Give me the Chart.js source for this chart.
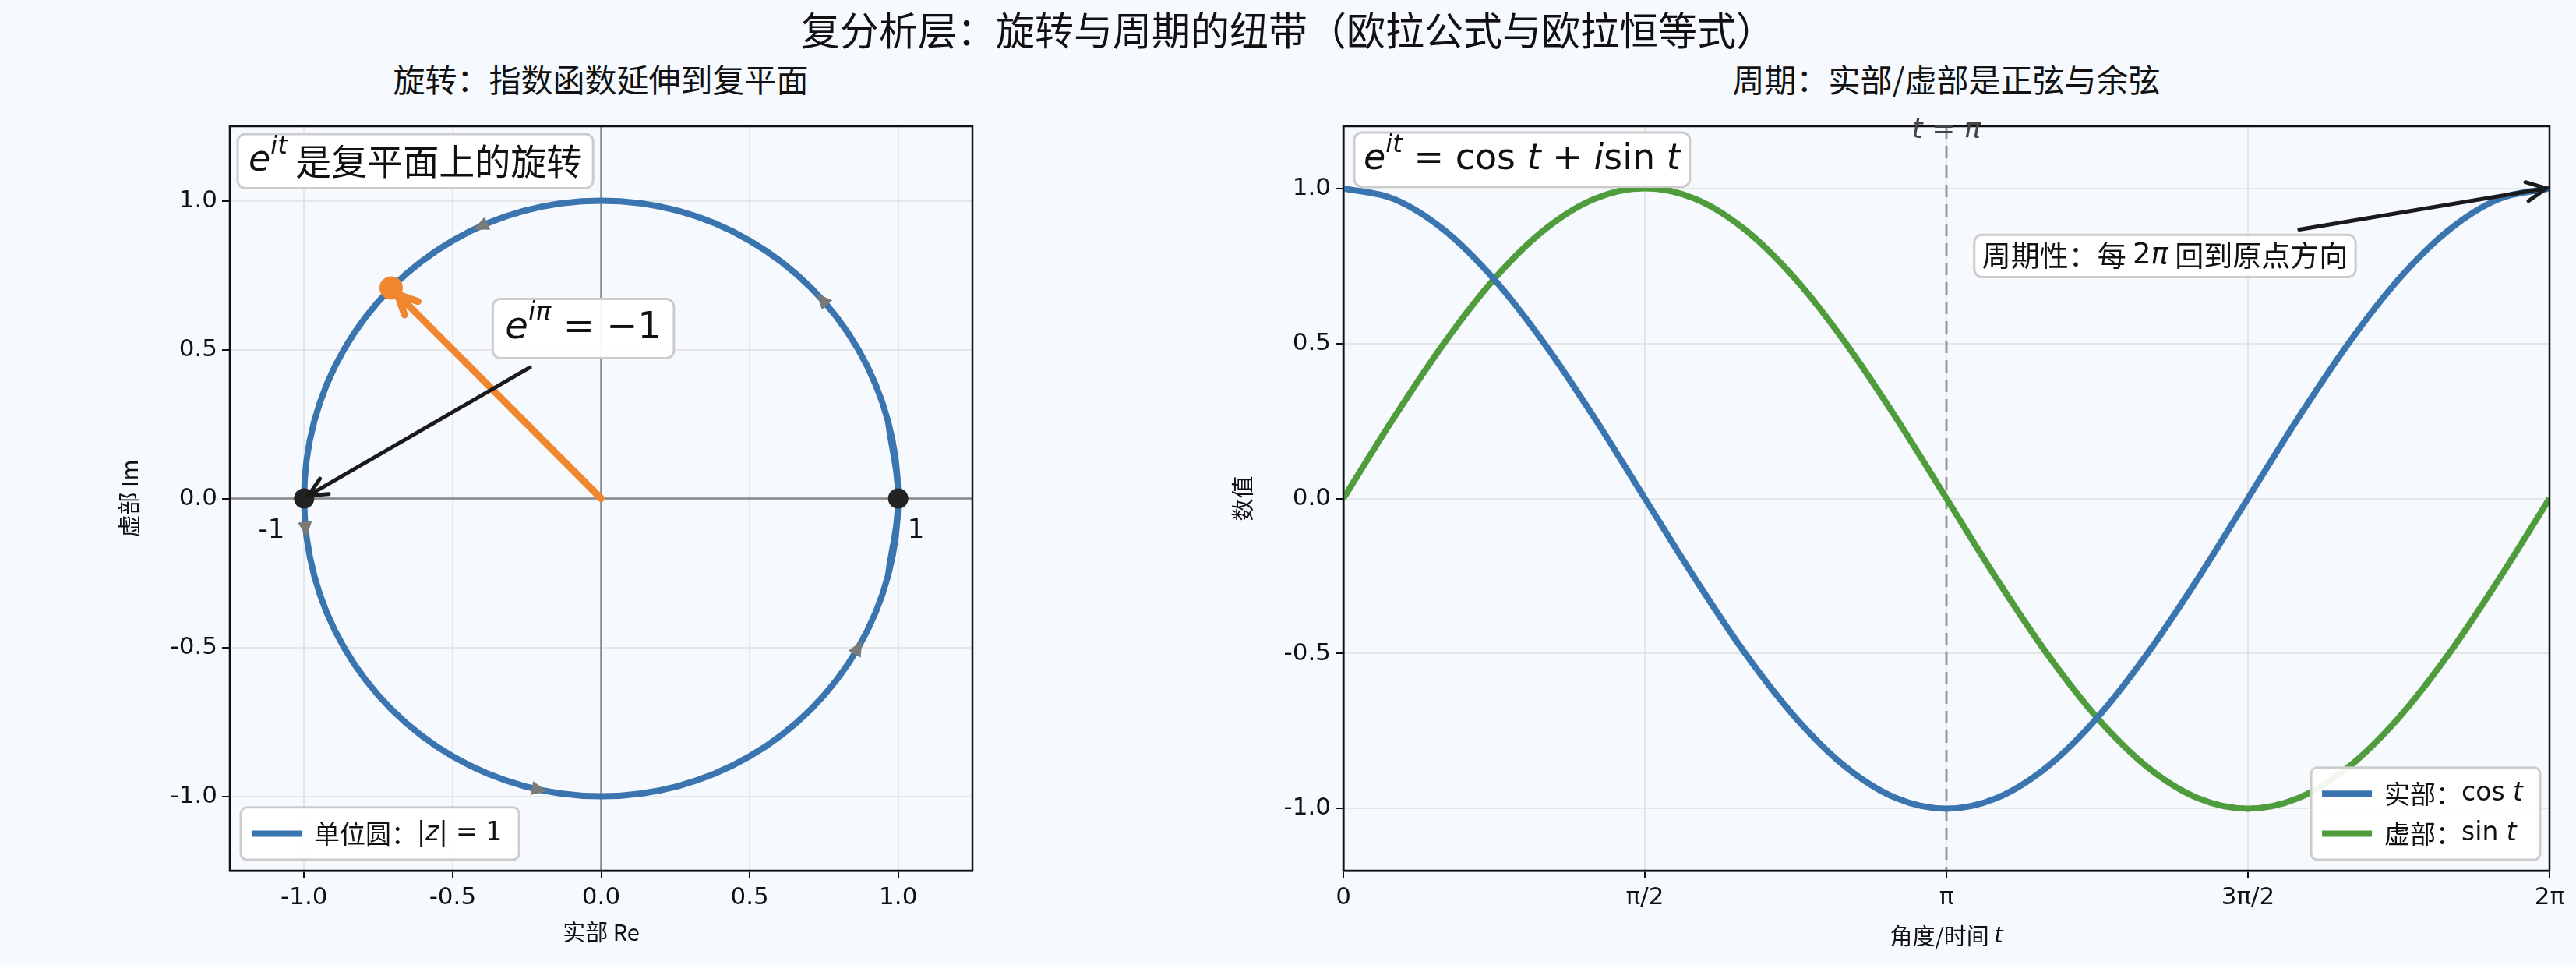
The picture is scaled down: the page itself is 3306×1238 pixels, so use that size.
<!DOCTYPE html>
<html>
<head>
<meta charset="utf-8">
<script src="https://cdn.jsdelivr.net/npm/chart.js@4"></script>
<style>
  body { margin: 0; background: #f6f9fd; width: 3306px; height: 1238px; overflow: hidden; position: relative; font-family: "Noto Sans CJK SC", "DejaVu Sans", sans-serif; }
  .title { position: absolute; color: #111; white-space: nowrap; transform: translateX(-50%); }
  #main { left: 1653px; top: 0px; font-size: 50px; }
  #sub1 { left: 771px; top: 70px; font-size: 41px; }
  #sub2 { left: 2498px; top: 70px; font-size: 41px; }
  .box { position: absolute; top: 0; height: 1238px; }
</style>
</head>
<body>
<div id="main" class="title">复分析层：旋转与周期的纽带（欧拉公式与欧拉恒等式）</div>
<div id="sub1" class="title">旋转：指数函数延伸到复平面</div>
<div id="sub2" class="title">周期：实部/虚部是正弦与余弦</div>
<div class="box" style="left:0;width:1450px"><canvas id="circle"></canvas></div>
<div class="box" style="left:1450px;width:1856px"><canvas id="wave"></canvas></div>
<script>
// sample angles t (radians), 15 degree steps
const tValues = [0, 0.262, 0.524, 0.785, 1.047, 1.309, 1.571, 1.833, 2.094, 2.356, 2.618, 2.880, 3.142,
  3.403, 3.665, 3.927, 4.189, 4.451, 4.712, 4.974, 5.236, 5.498, 5.760, 6.021, 6.283];
const cosValues = [1, 0.966, 0.866, 0.707, 0.5, 0.259, 0, -0.259, -0.5, -0.707, -0.866, -0.966, -1,
  -0.966, -0.866, -0.707, -0.5, -0.259, 0, 0.259, 0.5, 0.707, 0.866, 0.966, 1];
const sinValues = [0, 0.259, 0.5, 0.707, 0.866, 0.966, 1, 0.966, 0.866, 0.707, 0.5, 0.259, 0,
  -0.259, -0.5, -0.707, -0.866, -0.966, -1, -0.966, -0.866, -0.707, -0.5, -0.259, 0];
const waveTicks = [0, 1.5708, 3.1416, 4.7124, 6.2832];
const waveTickLabels = ['0', 'π/2', 'π', '3π/2', '2π'];
const rotPoint = [-0.707, 0.707];
const markPoints = [[-1, 0], [1, 0]];
const arrowAngles = [42, 114, 186, 258, 330];

const BLUE = '#3a75af', GREEN = '#4e9c3b', ORANGE = '#f0862e';
const SANS = '"DejaVu Sans", "Noto Sans CJK SC"';
const CJK = '"Noto Sans CJK SC", "DejaVu Sans"';

function fmt(v) { return v.toFixed(1); }

// draw segments: {t, it, sup, cjk}
function rich(ctx, segs, x, y, size, align) {
  const parts = segs.map(s => {
    const sz = s.sup ? size * 0.7 : size;
    const font = (s.it ? 'italic ' : '') + sz + 'px ' + (s.cjk ? CJK : SANS);
    ctx.font = font;
    return { s, font, w: ctx.measureText(s.t).width };
  });
  const total = parts.reduce((a, p) => a + p.w, 0);
  let cx = align === 'center' ? x - total / 2 : align === 'right' ? x - total : x;
  ctx.textBaseline = 'middle';
  ctx.textAlign = 'left';
  parts.forEach(p => {
    ctx.font = p.font;
    ctx.fillText(p.s.t, cx, p.s.sup ? y - size * 0.4 : y);
    cx += p.w;
  });
  return total;
}
function measure(ctx, segs, size) {
  return segs.reduce((a, s) => {
    ctx.font = (s.it ? 'italic ' : '') + (s.sup ? size * 0.7 : size) + 'px ' + (s.cjk ? CJK : SANS);
    return a + ctx.measureText(s.t).width;
  }, 0);
}
function roundBox(ctx, x, y, w, h, r) {
  ctx.save();
  ctx.beginPath();
  ctx.roundRect(x, y, w, h, r);
  ctx.fillStyle = 'rgba(255,255,255,0.92)';
  ctx.fill();
  ctx.strokeStyle = '#cccccc';
  ctx.lineWidth = 3;
  ctx.stroke();
  ctx.restore();
}
function textBox(ctx, segs, x, y, size, padX, padY) {
  const w = measure(ctx, segs, size);
  const h = size * 1.25;
  roundBox(ctx, x, y, w + padX * 2, h + padY * 2, 10);
  ctx.fillStyle = '#111';
  rich(ctx, segs, x + padX, y + padY + h / 2, size, 'left');
  return { w: w + padX * 2, h: h + padY * 2 };
}
function arrow(ctx, x1, y1, x2, y2, color, lw, head) {
  const a = Math.atan2(y2 - y1, x2 - x1);
  ctx.save();
  ctx.strokeStyle = color;
  ctx.lineWidth = lw;
  ctx.lineCap = 'round';
  ctx.beginPath();
  ctx.moveTo(x1, y1); ctx.lineTo(x2, y2);
  ctx.moveTo(x2 - head * Math.cos(a - 0.45), y2 - head * Math.sin(a - 0.45));
  ctx.lineTo(x2, y2);
  ctx.lineTo(x2 - head * Math.cos(a + 0.45), y2 - head * Math.sin(a + 0.45));
  ctx.stroke();
  ctx.restore();
}
function legendBox(ctx, items, x, y, size) {
  const rowH = size * 1.55;
  const w = Math.max(...items.map(it => measure(ctx, it.segs, size))) + 116;
  const h = rowH * items.length + 16;
  roundBox(ctx, x, y - h, w, h, 8);
  items.forEach((it, i) => {
    const cy = y - h + 8 + rowH * (i + 0.5);
    ctx.save();
    ctx.strokeStyle = it.color; ctx.lineWidth = 8;
    ctx.beginPath(); ctx.moveTo(x + 14, cy); ctx.lineTo(x + 78, cy); ctx.stroke();
    ctx.restore();
    ctx.fillStyle = '#111';
    rich(ctx, it.segs, x + 94, cy, size, 'left');
  });
  return w;
}
function frame(chart) {
  const { ctx, chartArea: a } = chart;
  ctx.save();
  ctx.strokeStyle = '#111'; ctx.lineWidth = 2.5;
  ctx.strokeRect(a.left, a.top, a.right - a.left, a.bottom - a.top);
  ctx.restore();
}

const tickFont = { family: SANS, size: 31 };
function axisCommon(min, max, cb) {
  return {
    type: 'linear', min, max,
    border: { color: '#111', width: 2.5 },
    grid: { color: '#e6e6e6', lineWidth: 2, tickColor: '#111', tickLength: 10 },
    ticks: { color: '#111', font: tickFont, padding: 6, callback: cb }
  };
}

// ---------- left: unit circle ----------
const circlePlugin = {
  id: 'circleExtras',
  beforeDatasetsDraw(chart) {
    const { ctx, chartArea: a, scales: { x, y } } = chart;
    ctx.save();
    ctx.strokeStyle = '#888'; ctx.lineWidth = 2.5;
    ctx.beginPath();
    ctx.moveTo(x.getPixelForValue(0), a.top); ctx.lineTo(x.getPixelForValue(0), a.bottom);
    ctx.moveTo(a.left, y.getPixelForValue(0)); ctx.lineTo(a.right, y.getPixelForValue(0));
    ctx.stroke();
    ctx.restore();
  },
  afterDatasetsDraw(chart) {
    const { ctx, chartArea: a, scales: { x, y } } = chart;
    frame(chart);
    arrowAngles.forEach(deg => {
      const r = deg * Math.PI / 180;
      const px = x.getPixelForValue(Math.cos(r)), py = y.getPixelForValue(Math.sin(r));
      const dir = Math.atan2(-Math.cos(r), -Math.sin(r));
      ctx.save();
      ctx.translate(px, py); ctx.rotate(dir);
      ctx.fillStyle = '#7a7a7a';
      ctx.beginPath(); ctx.moveTo(10, 0); ctx.lineTo(-10, -9); ctx.lineTo(-10, 9); ctx.closePath(); ctx.fill();
      ctx.restore();
    });
    const ox = x.getPixelForValue(0), oy = y.getPixelForValue(0);
    const rx = x.getPixelForValue(rotPoint[0]), ry = y.getPixelForValue(rotPoint[1]);
    arrow(ctx, ox, oy, rx + 8, ry + 8, ORANGE, 9, 28);
    ctx.save(); ctx.fillStyle = ORANGE;
    ctx.beginPath(); ctx.arc(rx, ry, 15, 0, Math.PI * 2); ctx.fill(); ctx.restore();
    markPoints.forEach(p => {
      ctx.save(); ctx.fillStyle = '#222';
      ctx.beginPath(); ctx.arc(x.getPixelForValue(p[0]), y.getPixelForValue(p[1]), 13, 0, Math.PI * 2); ctx.fill(); ctx.restore();
    });
    ctx.fillStyle = '#111';
    ctx.font = '34px ' + SANS; ctx.textBaseline = 'middle'; ctx.textAlign = 'center';
    ctx.fillText('-1', x.getPixelForValue(-1.11), y.getPixelForValue(-0.11));
    ctx.fillText('1', x.getPixelForValue(1.06), y.getPixelForValue(-0.11));
    arrow(ctx, x.getPixelForValue(-0.24), y.getPixelForValue(0.44),
      x.getPixelForValue(-0.985), y.getPixelForValue(0.01), '#1a1a1a', 5, 26);
    const seg1 = [{ t: 'e', it: 1 }, { t: 'iπ', it: 1, sup: 1 }, { t: ' = −1' }];
    const w1 = measure(ctx, seg1, 48);
    textBox(ctx, seg1, x.getPixelForValue(-0.06) - w1 / 2 - 16, y.getPixelForValue(0.67), 48, 16, 8);
    textBox(ctx, [{ t: 'e', it: 1 }, { t: 'it', it: 1, sup: 1 }, { t: ' 是复平面上的旋转', cjk: 1 }],
      a.left + 10, a.top + 10, 46, 14, 6);
    legendBox(ctx, [{ color: BLUE, segs: [{ t: '单位圆：', cjk: 1 }, { t: '|' }, { t: 'z', it: 1 }, { t: '| = 1' }] }],
      a.left + 14, a.bottom - 14, 33);
  }
};

// wrap one point on each end so the closed loop has smooth tangents
const circlePts = cosValues.map((c, i) => ({ x: c, y: sinValues[i] }));
const circleData = [circlePts[23]].concat(circlePts, [circlePts[1]]);

new Chart(document.getElementById('circle'), {
  type: 'scatter',
  data: {
    datasets: [{
      data: circleData,
      showLine: true, borderColor: BLUE, borderWidth: 8, pointRadius: 0, tension: 0.36, fill: false
    }]
  },
  options: {
    responsive: true, maintainAspectRatio: false, animation: false,
    layout: { padding: { left: 145, top: 162, right: 202, bottom: 21 } },
    plugins: { legend: { display: false }, tooltip: { enabled: false } },
    scales: {
      x: Object.assign(axisCommon(-1.25, 1.25, v => fmt(v)), {
        afterBuildTicks: s => { s.ticks = [-1, -0.5, 0, 0.5, 1].map(v => ({ value: v })); },
        afterFit: s => { s.height = 100; },
        title: { display: true, text: '实部 Re', color: '#111', font: { family: CJK, size: 29 }, padding: { top: 4 } }
      }),
      y: Object.assign(axisCommon(-1.25, 1.25, v => fmt(v)), {
        afterBuildTicks: s => { s.ticks = [-1, -0.5, 0, 0.5, 1].map(v => ({ value: v })); },
        afterFit: s => { s.width = 150; },
        title: { display: true, text: '虚部 Im', color: '#111', font: { family: CJK, size: 29 }, padding: { bottom: 6 } }
      })
    }
  },
  plugins: [circlePlugin]
});

// ---------- right: cos / sin waves ----------
const wavePlugin = {
  id: 'waveExtras',
  beforeDatasetsDraw(chart) {
    const { ctx, chartArea: a, scales: { x } } = chart;
    const px = x.getPixelForValue(waveTicks[2]);
    ctx.save();
    ctx.strokeStyle = '#999'; ctx.lineWidth = 3; ctx.setLineDash([16, 9]);
    ctx.beginPath(); ctx.moveTo(px, a.top); ctx.lineTo(px, a.bottom); ctx.stroke();
    ctx.restore();
  },
  afterDraw(chart) {
    const { ctx, chartArea: a, scales: { x, y } } = chart;
    frame(chart);
    ctx.fillStyle = '#444';
    rich(ctx, [{ t: 't', it: 1 }, { t: ' = ' }, { t: 'π', it: 1 }], x.getPixelForValue(waveTicks[2]), a.top + 6, 36, 'center');
    ctx.fillStyle = '#111';
    rich(ctx, [{ t: '角度/时间 ', cjk: 1 }, { t: 't', it: 1 }], (a.left + a.right) / 2, a.bottom + 84, 29, 'center');
    arrow(ctx, x.getPixelForValue(4.98), y.getPixelForValue(0.867),
      x.getPixelForValue(6.2832) - 4, y.getPixelForValue(1), '#1a1a1a', 5, 28);
    const seg = [{ t: '周期性：每 ', cjk: 1 }, { t: '2' }, { t: 'π', it: 1 }, { t: ' 回到原点方向', cjk: 1 }];
    const w = measure(ctx, seg, 37);
    textBox(ctx, seg, x.getPixelForValue(4.28) - w / 2 - 10, y.getPixelForValue(0.85), 37, 10, 4);
    textBox(ctx, [{ t: 'e', it: 1 }, { t: 'it', it: 1, sup: 1 }, { t: ' = cos ' }, { t: 't', it: 1 }, { t: ' + ' },
      { t: 'i', it: 1 }, { t: 'sin ' }, { t: 't', it: 1 }], a.left + 14, a.top + 8, 46, 12, 6);
    const items = [
      { color: BLUE, segs: [{ t: '实部：', cjk: 1 }, { t: 'cos ' }, { t: 't', it: 1 }] },
      { color: GREEN, segs: [{ t: '虚部：', cjk: 1 }, { t: 'sin ' }, { t: 't', it: 1 }] }
    ];
    const lw = Math.max(...items.map(it => measure(ctx, it.segs, 33))) + 116;
    legendBox(ctx, items, a.right - 12 - lw, a.bottom - 14, 33);
  }
};

new Chart(document.getElementById('wave'), {
  type: 'line',
  data: {
    datasets: [
      { data: tValues.map((t, i) => ({ x: t, y: cosValues[i] })), borderColor: BLUE, borderWidth: 8,
        pointRadius: 0, tension: 0.35, fill: false },
      { data: tValues.map((t, i) => ({ x: t, y: sinValues[i] })), borderColor: GREEN, borderWidth: 8,
        pointRadius: 0, tension: 0.35, fill: false }
    ]
  },
  options: {
    responsive: true, maintainAspectRatio: false, animation: false,
    layout: { padding: { left: 124, top: 162, right: 34, bottom: 21 } },
    plugins: { legend: { display: false }, tooltip: { enabled: false } },
    scales: {
      x: Object.assign(axisCommon(0, 6.2832, v => {
        const i = waveTicks.indexOf(v); return i >= 0 ? waveTickLabels[i] : '';
      }), {
        afterBuildTicks: s => { s.ticks = waveTicks.map(v => ({ value: v })); },
        afterFit: s => { s.height = 100; }
      }),
      y: Object.assign(axisCommon(-1.2, 1.2, v => fmt(v)), {
        afterBuildTicks: s => { s.ticks = [-1, -0.5, 0, 0.5, 1].map(v => ({ value: v })); },
        afterFit: s => { s.width = 150; },
        title: { display: true, text: '数值', color: '#111', font: { family: CJK, size: 29 }, padding: { bottom: 6 } }
      })
    }
  },
  plugins: [wavePlugin]
});
</script>
</body>
</html>
